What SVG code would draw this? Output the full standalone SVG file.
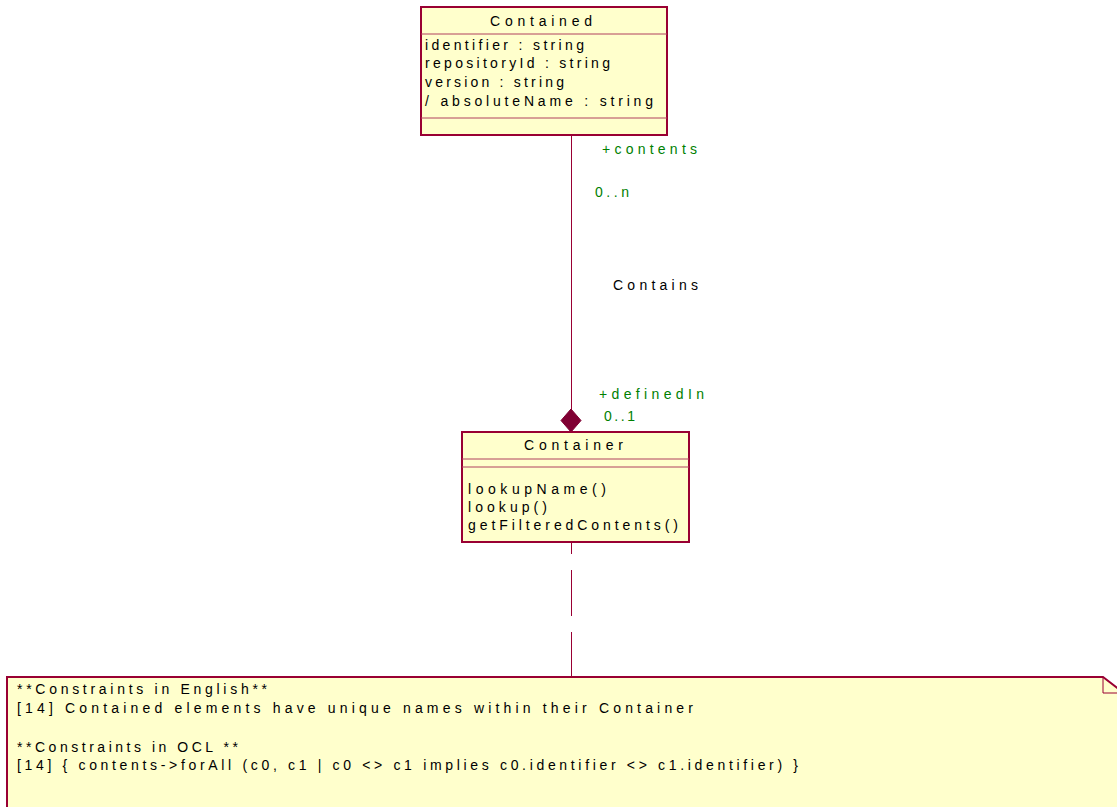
<svg xmlns="http://www.w3.org/2000/svg" width="1117" height="807" viewBox="0 0 1117 807">
<style>
.box{fill:#FFFFCC;stroke:#990033;stroke-width:2}
.div{stroke:#B0405F;stroke-width:1}
.t{font-family:"Liberation Sans",Arial,sans-serif;font-size:14px;fill:#000}
.g{font-family:"Liberation Sans",Arial,sans-serif;font-size:14px;fill:#008000}
.conn{stroke:#990033;stroke-width:1;fill:none}
</style>
<rect width="1117" height="807" fill="#fff"/>
<g id="connectors">
<line class="conn" x1="571.5" y1="135" x2="571.5" y2="410"/>
<polygon points="571,409 581,420.5 571,432 561,420.5" fill="#800033" stroke="#800033" stroke-width="1"/>
<line class="conn" x1="571.5" y1="542" x2="571.5" y2="677" stroke-dasharray="12 16 46 16 45"/>
<text class="g" x="602" y="154" textLength="95" lengthAdjust="spacing">+contents</text>
<text class="g" x="595" y="197" textLength="34" lengthAdjust="spacing">0..n</text>
<text class="t" x="613" y="290" textLength="85" lengthAdjust="spacing">Contains</text>
<text class="g" x="599" y="399" textLength="105" lengthAdjust="spacing">+definedIn</text>
<text class="g" x="604" y="421" textLength="31" lengthAdjust="spacing">0..1</text>
</g>
<g id="contained">
<rect class="box" x="421" y="7" width="246" height="128"/>
<line class="div" x1="421" y1="34" x2="667" y2="34"/>
<line class="div" x1="421" y1="118" x2="667" y2="118"/>
<text class="t" x="490" y="26" textLength="102" lengthAdjust="spacing">Contained</text>
<text class="t" x="425" y="50" textLength="159" lengthAdjust="spacing">identifier : string</text>
<text class="t" x="425" y="68" textLength="185" lengthAdjust="spacing">repositoryId : string</text>
<text class="t" x="425" y="87" textLength="139" lengthAdjust="spacing">version : string</text>
<text class="t" x="425" y="106" textLength="228" lengthAdjust="spacing">/ absoluteName : string</text>
</g>
<g id="container">
<rect class="box" x="462" y="432" width="227" height="110"/>
<line class="div" x1="462" y1="459" x2="689" y2="459"/>
<line class="div" x1="462" y1="467" x2="689" y2="467"/>
<text class="t" x="524" y="450" textLength="99" lengthAdjust="spacing">Container</text>
<text class="t" x="468" y="494" textLength="138" lengthAdjust="spacing">lookupName()</text>
<text class="t" x="468" y="512" textLength="79" lengthAdjust="spacing">lookup()</text>
<text class="t" x="468" y="530" textLength="210" lengthAdjust="spacing">getFilteredContents()</text>
</g>
<g id="note">
<path d="M7,677 H1103 L1125,694 V815 H7 Z" fill="#FFFFCC" stroke="#990033" stroke-width="2"/>
<path d="M1103,677 V693 H1125" fill="none" stroke="#990033" stroke-width="1"/>
<text class="t" x="17" y="694" textLength="250" lengthAdjust="spacing">**Constraints in English**</text>
<text class="t" x="17" y="713" textLength="676" lengthAdjust="spacing">[14] Contained elements have unique names within their Container</text>
<text class="t" x="17" y="752" textLength="221" lengthAdjust="spacing">**Constraints in OCL **</text>
<text class="t" x="17" y="770" textLength="781" lengthAdjust="spacing">[14] { contents-&gt;forAll (c0, c1 | c0 &lt;&gt; c1 implies c0.identifier &lt;&gt; c1.identifier) }</text>
</g>
</svg>
